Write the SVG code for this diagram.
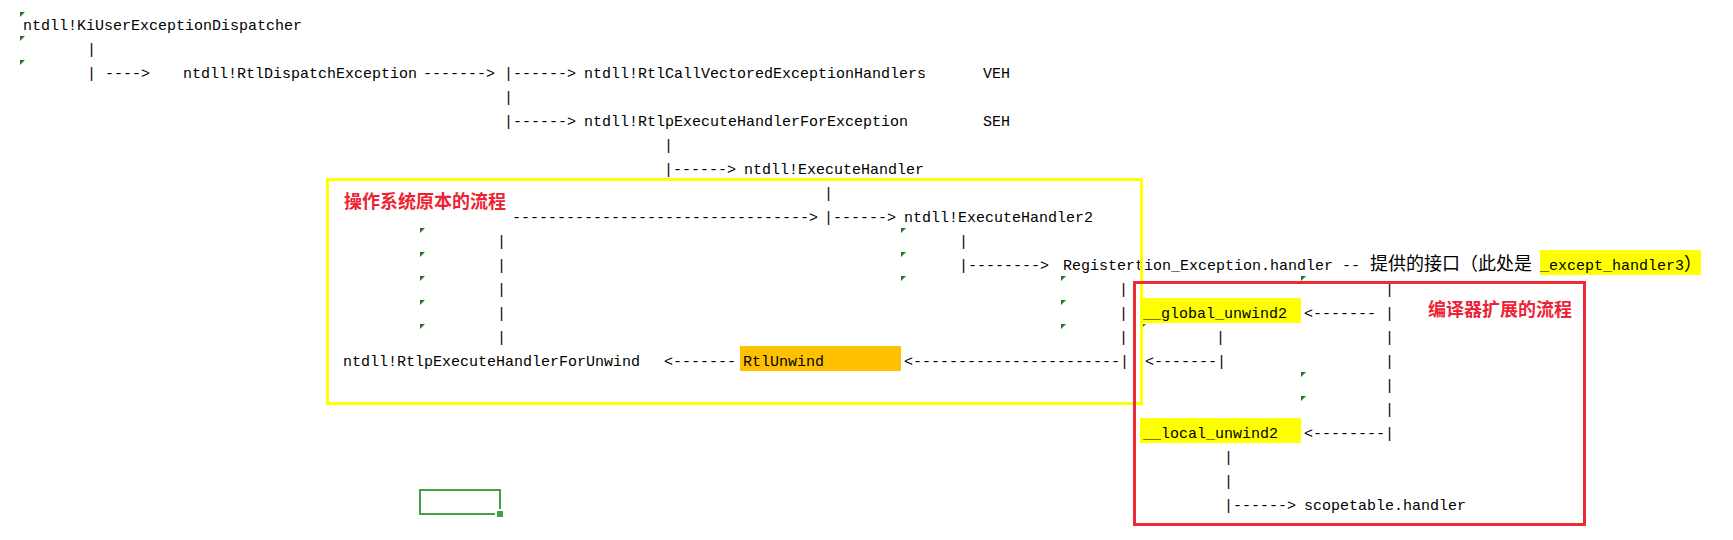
<svg xmlns="http://www.w3.org/2000/svg" xmlns:xlink="http://www.w3.org/1999/xlink" width="1733" height="540" viewBox="0 0 1733 540">
<style>
.t{font-family:"Liberation Mono","DejaVu Sans Mono",monospace;font-size:15px;fill:#000}
.c{font-family:"Noto Sans CJK SC","Noto Sans CJK TC",sans-serif;font-size:18px;fill:#000}
.lbl{font-family:"Noto Sans CJK SC","Noto Sans CJK TC",sans-serif;font-size:18px;font-weight:bold;fill:#ee2233}
.tri{fill:#1e7b1e}
.hl{fill:#ffff00}
.or{fill:#ffc000}
.box{fill:none;stroke-width:3}
</style>
<defs>
<path id="tri" d="M0,0 H5 L0,5 Z"/>
</defs>
<rect width="1733" height="540" fill="#fff"/>

<g id="cell-indicators" class="tri">
<use xlink:href="#tri" x="20" y="12"/>
<use xlink:href="#tri" x="20" y="36"/>
<use xlink:href="#tri" x="20" y="60"/>
<use xlink:href="#tri" x="420" y="228"/>
<use xlink:href="#tri" x="420" y="252"/>
<use xlink:href="#tri" x="420" y="276"/>
<use xlink:href="#tri" x="420" y="300"/>
<use xlink:href="#tri" x="420" y="324"/>
<use xlink:href="#tri" x="901" y="228"/>
<use xlink:href="#tri" x="901" y="252"/>
<use xlink:href="#tri" x="901" y="276"/>
<use xlink:href="#tri" x="1061" y="276"/>
<use xlink:href="#tri" x="1061" y="300"/>
<use xlink:href="#tri" x="1061" y="324"/>
<use xlink:href="#tri" x="1141" y="324"/>
<use xlink:href="#tri" x="1301" y="276"/>
<use xlink:href="#tri" x="1301" y="372"/>
<use xlink:href="#tri" x="1301" y="396"/>
</g>

<g id="connectors" class="t">
<text x="87" y="54">|</text>
<text x="87" y="78">| ----&gt;</text>
<text x="423" y="78">-------&gt;</text>
<text x="504" y="78">|------&gt;</text>
<text x="504" y="102">|</text>
<text x="504" y="126">|------&gt;</text>
<text x="664" y="150">|</text>
<text x="664" y="174">|------&gt;</text>
<text x="824" y="198">|</text>
<text x="512" y="222">--------</text>
<text x="584" y="222">-------------------------&gt;</text>
<text x="824" y="222">|------&gt;</text>
<text x="497" y="246">|</text>
<text x="959" y="246">|</text>
<text x="497" y="270">|</text>
<text x="959" y="270">|--------&gt;</text>
<text x="497" y="294">|</text>
<text x="1119" y="294">|</text>
<text x="1385" y="294">|</text>
<text x="497" y="318">|</text>
<text x="1119" y="318">|</text>
<text x="1304" y="318">&lt;------- |</text>
<text x="497" y="342">|</text>
<text x="1119" y="342">|</text>
<text x="1216" y="342">|</text>
<text x="1385" y="342">|</text>
<text x="664" y="366">&lt;-------</text>
<text x="904" y="366">&lt;-----------------------|</text>
<text x="1145" y="366">&lt;-------|</text>
<text x="1385" y="366">|</text>
<text x="1385" y="390">|</text>
<text x="1385" y="414">|</text>
<text x="1304" y="438">&lt;--------|</text>
<text x="1224" y="462">|</text>
<text x="1224" y="486">|</text>
<text x="1224" y="510">|------&gt;</text>
</g>

<g id="node-KiUserExceptionDispatcher"><text class="t" x="23" y="30">ntdll!KiUserExceptionDispatcher</text></g>
<g id="node-RtlDispatchException"><text class="t" x="183" y="78">ntdll!RtlDispatchException</text></g>
<g id="node-RtlCallVectoredExceptionHandlers"><text class="t" x="584" y="78">ntdll!RtlCallVectoredExceptionHandlers</text></g>
<g id="label-VEH"><text class="t" x="983" y="78">VEH</text></g>
<g id="node-RtlpExecuteHandlerForException"><text class="t" x="584" y="126">ntdll!RtlpExecuteHandlerForException</text></g>
<g id="label-SEH"><text class="t" x="983" y="126">SEH</text></g>
<g id="node-ExecuteHandler"><text class="t" x="744" y="174">ntdll!ExecuteHandler</text></g>
<g id="node-ExecuteHandler2"><text class="t" x="904" y="222">ntdll!ExecuteHandler2</text></g>
<g id="node-RegistrationHandler">
<text class="t" x="1063" y="270">Registertion_Exception.handler --</text>
<text class="c" x="1370" y="270">提供的接口（此处是</text>
<rect class="hl" x="1540" y="250" width="161" height="25"/>
<text class="t" x="1540" y="270">_except_handler3</text>
<text class="c" x="1684" y="270">）</text>
</g>
<g id="node-global_unwind2">
<rect class="hl" x="1140" y="298" width="161" height="25"/>
<text class="t" x="1143" y="318">__global_unwind2</text>
</g>
<g id="node-RtlpExecuteHandlerForUnwind"><text class="t" x="343" y="366">ntdll!RtlpExecuteHandlerForUnwind</text></g>
<g id="node-RtlUnwind">
<rect class="or" x="740" y="346" width="161" height="25"/>
<text class="t" x="743" y="366">RtlUnwind</text>
</g>
<g id="node-local_unwind2">
<rect class="hl" x="1140" y="418" width="161" height="25"/>
<text class="t" x="1143" y="438">__local_unwind2</text>
</g>
<g id="node-scopetable-handler"><text class="t" x="1304" y="510">scopetable.handler</text></g>

<g id="group-os">
<rect class="box" x="327.5" y="179.5" width="814" height="224" stroke="#ffff00"/>
<text class="lbl" x="344" y="208">操作系统原本的流程</text>
</g>
<g id="group-compiler">
<rect class="box" x="1134.5" y="282.5" width="450" height="242" stroke="#ee2a36"/>
<text class="lbl" x="1428" y="316">编译器扩展的流程</text>
</g>

<g id="selection">
<rect x="420" y="490" width="80" height="24" fill="none" stroke="#43a047" stroke-width="2"/>
<rect x="495" y="509" width="9" height="9" fill="#fff"/>
<rect x="497" y="511" width="6" height="6" fill="#43a047"/>
</g>
</svg>
